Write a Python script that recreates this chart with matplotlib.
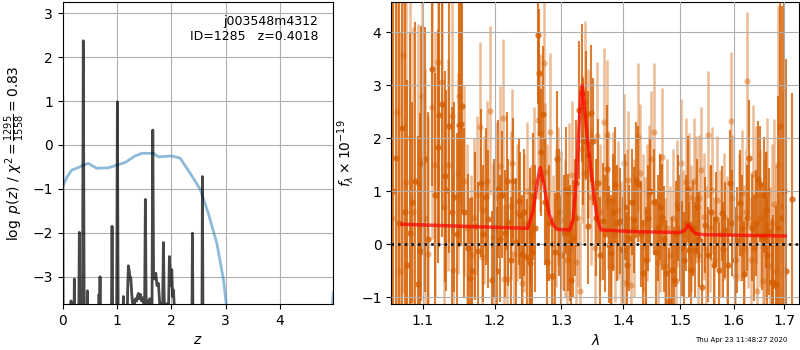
import matplotlib
matplotlib.use("Agg")
import matplotlib.pyplot as plt
from matplotlib.ticker import NullLocator, NullFormatter, FixedLocator, FixedFormatter

# ---------------- Left panel data: log p(z) ----------------
pz_z = [0.000, 0.008, 0.143, 0.153, 0.163, 0.204, 0.214, 0.224, 0.292, 0.306,
        0.320, 0.362, 0.379, 0.396, 0.442, 0.453, 0.464, 0.657, 0.668, 0.677,
        0.687, 0.697, 0.893, 0.908, 0.923, 0.990, 1.006, 1.022, 1.105, 1.116,
        1.127, 1.180, 1.195, 1.208, 1.222, 1.240, 1.252, 1.268, 1.285, 1.300,
        1.320, 1.340, 1.360, 1.380, 1.392, 1.410, 1.430, 1.450, 1.470, 1.490,
        1.505, 1.521, 1.537, 1.560, 1.580, 1.600, 1.620, 1.642, 1.657, 1.672,
        1.690, 1.713, 1.735, 1.761, 1.785, 1.810, 1.835, 1.853, 1.872, 1.895,
        1.920, 1.945, 1.963, 1.985, 2.007, 2.022, 2.037, 2.050, 2.060, 2.375,
        2.387, 2.399, 2.560, 2.571, 2.582, 4.980]
pz_logp = [1.08, -4.5, -4.5, -3.55, -4.5, -4.5, -3.05, -4.5, -4.5, -1.99,
           -4.5, -4.5, 2.37, -4.5, -4.5, -3.32, -4.5, -4.5, -3.40, -4.0,
           -3.00, -4.5, -4.5, -1.85, -4.5, -4.5, 0.98, -4.5, -4.5, -3.45,
           -4.5, -4.5, -3.30, -2.75, -2.85, -3.05, -3.02, -3.35, -3.60, -3.55,
           -3.62, -3.50, -3.55, -3.42, -3.38, -3.50, -3.40, -3.55, -3.48, -3.60,
           -4.0, -1.24, -4.0, -3.55, -3.62, -3.50, -3.58, -4.0, 0.34, -3.00,
           -3.05, -2.92, -3.20, -3.15, -3.62, -3.60, -4.0, -2.22, -3.9, -3.62,
           -3.62, -3.9, -2.54, -3.20, -2.84, -3.45, -3.30, -3.60, -4.5, -4.5,
           -2.01, -4.5, -4.5, -0.72, -4.5, -4.5]

prior_z = [0.0, 0.074, 0.166, 0.258, 0.38, 0.47, 0.626, 0.84, 0.99, 1.147,
           1.33, 1.455, 1.67, 1.76, 2.007, 2.16, 2.344, 2.53, 2.68, 2.836,
           2.96, 3.02, 3.10, 4.90, 4.95, 4.98]
prior_logp = [-0.95, -0.74, -0.57, -0.53, -0.46, -0.42, -0.53, -0.52, -0.46, -0.40,
              -0.25, -0.19, -0.19, -0.27, -0.25, -0.30, -0.64, -1.01, -1.56, -2.24,
              -3.08, -3.75, -4.5, -4.5, -3.8, -3.35]

# ---------------- Right panel data: spectrum ----------------
dark_wave = [1.0621,1.0655,1.0690,1.0728,1.0767,1.0800,1.0829,1.0864,1.0900,1.0934,
             1.0969,1.0985,1.1035,1.1075,1.1120,1.1160,1.1210,1.1225,1.1265,1.1300,
             1.1318,1.1360,1.1400,1.1428,1.1465,1.1488,1.1520,1.1540,1.1565,1.1612,
             1.1646,1.1678,1.1715,1.1753,1.1801,1.1835,1.1867,1.1905,1.1953,1.1990,
             1.2024,1.2049,1.2080,1.2107,1.2147,1.2170,1.2195,1.2230,1.2268,1.2310,
             1.2353,1.2367,1.2391,1.2430,1.2470,1.2511,1.2522,1.2552,1.2563,1.2600,
             1.2639,1.2654,1.2678,1.2715,1.2745,1.2776,1.2815,1.2858,1.2893,1.2931,
             1.2970,1.3000,1.3034,1.3077,1.3103,1.3129,1.3156,1.3183,1.3210,1.3235,
             1.3278,1.3331,1.3342,1.3384,1.3422,1.3428,1.3476,1.3504,1.3545,1.3590,
             1.3625,1.3661,1.3700,1.3733,1.3771,1.3805,1.3835,1.3865,1.3900,1.3954,
             1.3993,1.4040,1.4075,1.4107,1.4150,1.4192,1.4221,1.4261,1.4300,1.4335,
             1.4394,1.4421,1.4470,1.4526,1.4568,1.4605,1.4643,1.4678,1.4710,1.4749,
             1.4797,1.4843,1.4886,1.4925,1.4963,1.5000,1.5035,1.5066,1.5105,1.5145,
             1.5165,1.5187,1.5230,1.5268,1.5309,1.5350,1.5401,1.5451,1.5500,1.5556,
             1.5620,1.5650,1.5714,1.5763,1.5800,1.5839,1.5880,1.5916,1.5970,1.6020,
             1.6069,1.6121,1.6160,1.6199,1.6250,1.6302,1.6345,1.6395,1.6440,1.6480,
             1.6510,1.6545,1.6594,1.6625,1.6660,1.6700,1.6748,1.6781,1.6835,1.6870,
             1.6903,1.6951,1.6998,1.7039,1.7156]
dark_flux = [1.00,1.62,0.40,2.20,0.60,-0.40,0.21,0.79,1.20,-0.75,
             -0.12,1.53,1.60,0.09,3.30,0.93,1.84,2.44,2.64,1.28,
             1.02,2.23,0.60,0.89,0.20,2.25,2.27,2.61,0.60,-0.07,
             -0.63,-0.50,0.35,-0.12,1.16,0.20,0.90,0.47,-0.67,0.30,
             -0.50,1.04,0.10,0.93,0.21,1.19,0.41,-0.30,1.19,0.05,
             0.81,0.55,-0.18,0.60,-0.25,0.33,-0.36,-0.14,0.90,0.30,
             3.95,3.24,1.74,2.45,0.80,-0.34,0.40,-0.61,-0.14,1.60,
             0.60,-0.20,0.21,1.02,0.22,0.02,-0.67,0.11,0.50,1.15,
             2.53,2.85,1.94,2.44,0.35,1.69,2.47,1.94,0.50,1.16,
             -0.20,0.43,0.20,1.42,-0.01,-0.17,0.60,1.12,0.40,0.43,
             -0.11,0.70,-0.40,0.11,0.80,0.46,1.21,1.14,0.20,-0.55,
             -0.30,0.49,1.00,0.79,-0.14,0.30,0.71,0.52,0.10,-0.55,
             -1.08,-0.48,-0.67,0.20,0.68,0.30,-0.08,-0.30,0.40,1.05,
             -0.11,-0.48,0.30,-0.11,0.71,0.10,-0.80,0.36,-0.20,0.60,
             -0.39,0.47,-0.48,0.58,-0.10,0.27,-0.40,1.16,0.40,-0.30,
             0.08,0.77,0.30,-0.56,0.50,1.62,0.30,-0.08,0.40,1.23,
             1.14,0.14,0.93,0.65,-0.20,0.24,-0.72,-0.74,-0.77,0.30,
             2.23,0.50,1.00,-0.50,0.85]
dark_err = [5.0,5.0,4.5,4.5,4.0,3.5,3.8,1.9,3.0,2.8,
            2.6,2.6,2.5,2.4,2.2,2.3,2.2,2.5,2.5,2.0,
            1.9,2.4,2.0,1.8,1.9,2.3,2.3,2.0,1.6,1.4,
            1.5,1.4,1.4,1.3,1.4,1.3,1.3,1.3,1.3,1.3,
            1.2,1.3,1.2,1.2,1.2,1.3,1.2,1.2,1.2,1.2,
            1.2,1.2,1.1,1.2,1.1,1.1,1.1,1.1,1.2,1.2,
            1.3,1.2,1.2,1.3,1.2,1.1,1.1,1.1,1.1,1.3,
            1.2,1.1,1.1,1.2,1.1,1.1,1.1,1.1,1.1,1.2,
            1.3,1.3,1.2,1.2,1.1,1.2,1.3,1.2,1.1,1.2,
            1.1,1.1,1.1,1.2,1.1,1.1,1.1,1.1,1.1,1.0,
            1.0,1.0,1.0,1.0,1.0,1.0,1.1,1.1,1.0,1.0,
            1.0,1.0,1.0,1.0,1.0,1.0,1.0,1.0,1.0,1.0,
            1.0,1.0,1.0,1.0,1.0,1.0,0.9,0.9,0.9,1.0,
            0.9,0.9,0.9,0.9,0.9,0.9,0.9,0.9,0.9,0.9,
            0.9,0.9,0.9,0.9,0.9,0.9,0.9,1.0,1.0,1.0,
            1.0,1.0,1.0,1.0,1.0,1.1,1.0,1.0,1.0,1.1,
            1.1,1.0,1.1,1.1,1.1,1.2,1.2,1.3,1.5,2.5,
            3.5,4.0,4.5,4.0,2.0]

light_wave = [1.0600,1.0664,1.0700,1.0744,1.0787,1.0830,1.0880,1.0934,1.0990,1.1030,
              1.1066,1.1125,1.1170,1.1210,1.1264,1.1291,1.1345,1.1400,1.1415,1.1474,
              1.1493,1.1560,1.1610,1.1660,1.1700,1.1739,1.1786,1.1819,1.1848,1.1890,
              1.1924,1.1977,1.2020,1.2068,1.2117,1.2131,1.2170,1.2228,1.2253,1.2283,
              1.2330,1.2397,1.2430,1.2470,1.2510,1.2540,1.2580,1.2639,1.2674,1.2724,
              1.2745,1.2780,1.2816,1.2870,1.2910,1.2946,1.2998,1.3050,1.3085,1.3119,
              1.3170,1.3225,1.3262,1.3288,1.3320,1.3355,1.3368,1.3420,1.3470,1.3530,
              1.3569,1.3620,1.3677,1.3733,1.3750,1.3800,1.3826,1.3870,1.3921,1.3960,
              1.4010,1.4034,1.4068,1.4090,1.4136,1.4180,1.4249,1.4295,1.4335,1.4376,
              1.4415,1.4451,1.4480,1.4538,1.4596,1.4630,1.4666,1.4726,1.4770,1.4820,
              1.4870,1.4915,1.4935,1.5004,1.5050,1.5108,1.5157,1.5200,1.5248,1.5278,
              1.5320,1.5351,1.5385,1.5432,1.5470,1.5513,1.5550,1.5587,1.5630,1.5681,
              1.5740,1.5808,1.5872,1.5935,1.5962,1.6025,1.6090,1.6154,1.6186,1.6230,
              1.6264,1.6283,1.6330,1.6369,1.6435,1.6461,1.6510,1.6568,1.6600,1.6634,
              1.6660,1.6714,1.6750,1.6795,1.6840,1.6880,1.6970]
light_flux = [0.50,2.50,-0.50,3.57,1.18,2.00,0.60,1.16,2.80,0.50,
              -0.18,2.60,1.50,3.45,3.07,0.71,1.50,2.42,-0.48,1.34,
              2.79,1.20,0.30,-0.20,0.50,0.92,2.22,-0.25,0.65,1.20,
              2.52,0.13,0.90,1.48,2.38,-0.66,-0.66,0.73,1.54,-0.18,
              0.60,-0.74,0.40,1.00,-0.30,0.20,1.20,2.35,2.10,3.43,
              1.37,0.60,2.11,0.00,0.50,0.91,0.46,0.30,-0.30,0.99,
              1.30,-0.33,0.49,-0.89,1.80,1.34,2.71,1.90,0.90,-0.08,
              2.04,0.60,2.31,2.07,0.84,-0.42,0.82,0.20,0.65,-0.10,
              1.53,-0.74,0.49,1.21,-0.77,0.30,2.03,1.34,0.40,-0.04,
              0.60,0.96,1.60,2.12,-0.33,0.40,1.65,-0.42,0.30,-0.20,
              0.50,-0.70,0.76,1.54,0.20,1.18,0.90,0.30,1.19,0.85,
              -0.20,0.87,1.40,0.52,-0.10,2.07,0.30,1.02,-0.30,0.84,
              0.20,0.52,0.08,2.33,0.87,-0.61,0.50,0.96,-0.08,0.60,
              3.09,0.38,-0.30,1.33,0.93,-0.88,0.50,-0.70,0.20,0.36,
              0.99,-0.42,0.40,0.76,-0.50,1.50,0.70]
light_err = [5.0,5.0,4.5,4.5,4.0,3.5,3.5,3.0,3.0,2.8,
             2.6,2.5,2.5,2.5,2.4,2.0,2.0,2.2,1.8,1.9,
             2.0,1.8,1.6,1.5,1.5,1.5,1.6,1.4,1.4,1.5,
             1.6,1.4,1.4,1.5,1.5,1.4,1.4,1.4,1.4,1.3,
             1.3,1.3,1.3,1.3,1.3,1.3,1.4,1.5,1.5,1.6,
             1.3,1.3,1.5,1.3,1.3,1.3,1.3,1.3,1.3,1.3,
             1.4,1.3,1.3,1.3,1.4,1.3,1.5,1.4,1.3,1.3,
             1.4,1.3,1.4,1.4,1.3,1.3,1.3,1.3,1.3,1.3,
             1.3,1.3,1.3,1.3,1.3,1.3,1.4,1.3,1.3,1.3,
             1.3,1.3,1.3,1.3,1.3,1.3,1.3,1.3,1.3,1.3,
             1.3,1.2,1.2,1.2,1.2,1.2,1.2,1.2,1.2,1.2,
             1.2,1.2,1.2,1.2,1.2,1.2,1.2,1.2,1.2,1.2,
             1.2,1.2,1.2,1.3,1.2,1.2,1.2,1.2,1.2,1.2,
             1.3,1.2,1.2,1.3,1.3,1.3,1.3,1.3,1.4,1.4,
             1.4,1.5,1.5,1.6,2.0,3.0,2.2]

model_wave = [1.0731, 1.1500, 1.2480, 1.2560, 1.2640, 1.2674, 1.2740, 1.2800, 1.2860, 1.2930,
              1.3130, 1.3183, 1.3235, 1.3278, 1.3315, 1.3331, 1.3352, 1.3384, 1.3422, 1.3476,
              1.3530, 1.3580, 1.3634, 1.4124, 1.4990, 1.5080, 1.5145, 1.5210, 1.5278, 1.5400,
              1.7020]
model_flux = [0.377, 0.34, 0.30, 0.60, 1.25, 1.45, 1.05, 0.62, 0.40, 0.28,
              0.27, 0.46, 1.20, 2.20, 2.91, 3.00, 2.79, 2.35, 1.90, 1.34,
              0.84, 0.45, 0.27, 0.24, 0.22, 0.26, 0.37, 0.27, 0.20, 0.18,
              0.155]

wave_ticks = [1.1, 1.2, 1.3, 1.4, 1.5, 1.6, 1.7]
wave_ticklabels = ['1.1', '1.2', '1.3', '1.4', '1.5', '1.6', '1.7']

G141_COLOR = (0.8352941176470589, 0.3686274509803922, 0.0)

fig = plt.figure(figsize=(8, 3.5), dpi=100)

# ---------------- Left panel ----------------
ax1 = fig.add_axes([0.0784, 0.1314, 0.3383, 0.8637])
ax1.plot(prior_z, prior_logp, color='tab:blue', alpha=0.5, lw=2, zorder=3)
ax1.plot(pz_z, pz_logp, color='k', alpha=0.72, lw=2, zorder=4)
ax1.set_xlim(0, 4.98)
ax1.set_ylim(-3.62, 3.26)
ax1.set_xticks([0, 1, 2, 3, 4])
ax1.set_yticks([-3, -2, -1, 0, 1, 2, 3])
ax1.grid(True)
ax1.set_xlabel(r'$z$')
ax1.set_ylabel(r'$\log\ p(z)$ / $\chi^2=\frac{1295}{1558}=0.83$')
ax1.text(0.945, 0.957, 'j003548m4312\nID=1285   z=0.4018', ha='right', va='top',
         transform=ax1.transAxes, fontsize=9)

# ---------------- Right panel ----------------
ax2 = fig.add_axes([0.4891, 0.1314, 0.5100, 0.8637])
ax2.set_xscale('log')
ax2.errorbar(light_wave, light_flux, yerr=light_err, fmt='o', color=G141_COLOR,
             ecolor=G141_COLOR, ms=4.5, mew=0, elinewidth=1.8, capsize=0, alpha=0.42, zorder=2)
ax2.errorbar(dark_wave, dark_flux, yerr=dark_err, fmt='o', color=G141_COLOR,
             ecolor=G141_COLOR, ms=4.5, mew=0, elinewidth=1.5, capsize=0, alpha=0.8, zorder=2.1)
ax2.plot(model_wave, model_flux, color='r', lw=2.5, alpha=0.7, zorder=4)
ax2.axhline(0, color='k', ls=':', lw=1.8, zorder=5)
ax2.set_xlim(1.0593, 1.731)
ax2.set_ylim(-1.13, 4.58)
ax2.xaxis.set_major_locator(FixedLocator(wave_ticks))
ax2.xaxis.set_major_formatter(FixedFormatter(wave_ticklabels))
ax2.xaxis.set_minor_locator(NullLocator())
ax2.xaxis.set_minor_formatter(NullFormatter())
ax2.set_yticks([-1, 0, 1, 2, 3, 4])
ax2.set_axisbelow(False)
ax2.grid(True)
ax2.set_xlabel(r'$\lambda$')
ax2.set_ylabel(r'$f_\lambda\times10^{-19}$')

fig.text(0.984, 0.028, 'Thu Apr 23 11:48:27 2020', ha='right', va='center', fontsize=5)

fig.savefig('out.png', dpi=100)
